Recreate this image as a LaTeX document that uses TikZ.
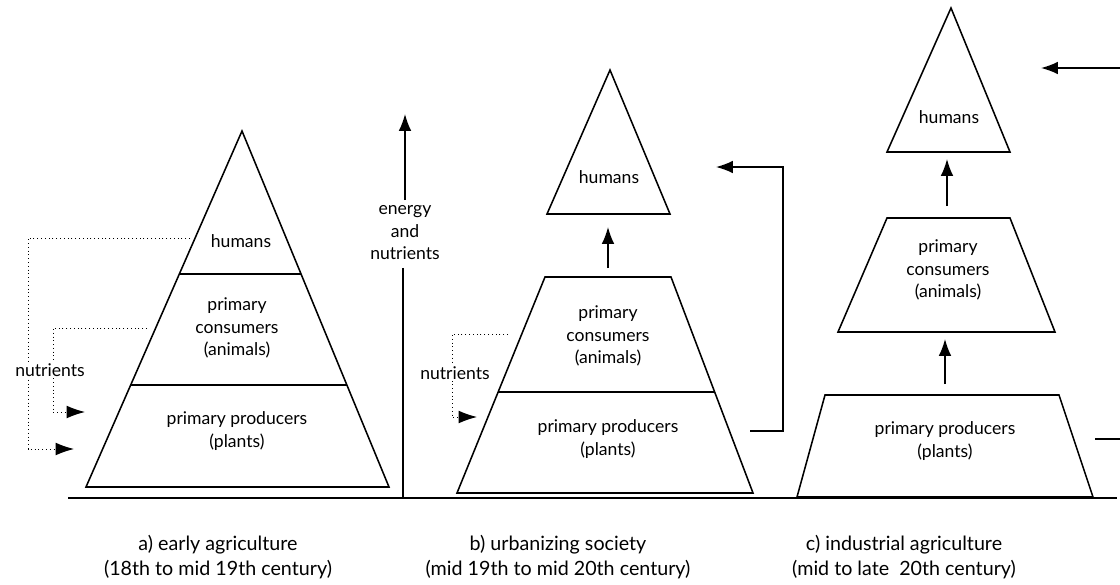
\documentclass[tikz,border=0pt]{standalone}
\usepackage{fontspec}
\setmainfont{Lato}
\usetikzlibrary{calc, arrows.meta}

\tikzset{
	level/.style = {line width=1.1pt, line join=miter},
	txt/.style = {align=center, inner sep=1pt},
	flow/.style = {line width=1.1pt, -{Latex[length=12pt, width=9pt]}},
	feed/.style = {dotted, line width=0.7pt, -{Latex[length=13pt, width=9pt]}},
}

\begin{document}
\begin{tikzpicture}[x=0.025cm, y=-0.025cm, font=\fontsize{12.5}{16}\selectfont]
	\useasboundingbox (0,0) rectangle (1120,585);

	% a) early agriculture
	\coordinate (aTop) at (242,131);
	\coordinate (aBL) at (86,487);
	\coordinate (aBR) at (389,487);
	\draw [level] (aBL) -- (aTop) -- (aBR) -- cycle;
	\draw [level] ($(aTop)!0.402!(aBL)$) -- ($(aTop)!0.402!(aBR)$);
	\draw [level] ($(aTop)!0.713!(aBL)$) -- ($(aTop)!0.713!(aBR)$);

	\node [txt] (aHum) at (241,241) {humans};
	\node [txt] (aCon) at (237,328) {primary\\consumers\\(animals)};
	\node [txt] (aPro) at (237,431) {primary producers\\(plants)};

	\coordinate (aOutFrom) at (190,238);
	\coordinate (aOutTo) at (74,449);
	\coordinate (aInFrom) at (147,328);
	\coordinate (aInTo) at (85,412);
	\draw [feed] (aOutFrom) -| (28,449) -- (aOutTo);
	\draw [feed] (aInFrom) -| (53,412) -- (aInTo);
	\node [txt, fill=white] (aNut) at (50,370) {nutrients};

	% energy and nutrients
	\node [txt] (energy) at (405,233) {energy\\and\\nutrients};
	\coordinate (enTip) at (405,114);
	\coordinate (enFoot) at (403,499);
	\draw [flow] (energy.north) ++(0,-4) -- (enTip);
	\draw [level] (energy.south) ++(-2,6) -- (enFoot);

	% ground line
	\coordinate (gL) at (68,498);
	\coordinate (gR) at (1117,498);
	\draw [line width=1pt] (gL) -- (gR);

	% b) urbanizing society
	\coordinate (bTL) at (545,277);
	\coordinate (bTR) at (671,277);
	\coordinate (bBL) at (457,493);
	\coordinate (bBR) at (753,493);
	\draw [level] (bBL) -- (bTL) -- (bTR) -- (bBR) -- cycle;
	\draw [level] ($(bTL)!0.532!(bBL)$) -- ($(bTR)!0.532!(bBR)$);
	\draw [level] (547,214) -- (610,70) -- (670,214) -- cycle;

	\node [txt] (bHum) at (609,177) {humans};
	\node [txt] (bCon) at (608,336) {primary\\consumers\\(animals)};
	\node [txt] (bPro) at (608,439) {primary producers\\(plants)};

	\coordinate (bUpFrom) at (608,268);
	\coordinate (bUpTo) at (608,227);
	\draw [flow] (bUpFrom) -- (bUpTo);

	\coordinate (bBackFrom) at (750,431);
	\coordinate (bBackTo) at (716,167);
	\draw [flow] (bBackFrom) -- (783,431) -- (783,167) -- (bBackTo);

	\coordinate (bNutFrom) at (508,334);
	\coordinate (bNutTo) at (477,417);
	\draw [feed] (bNutFrom) -| (452,417) -- (bNutTo);
	\node [txt, fill=white] (bNut) at (455,373) {nutrients};

	% c) industrial agriculture
	\draw [level] (887,152) -- (951,8) -- (1010,152) -- cycle;
	\draw [level] (838,332) -- (887,218) -- (1010,218) -- (1055,332) -- cycle;
	\draw [level] (797,497) -- (825,395) -- (1059,395) -- (1093,497) -- cycle;

	\node [txt] (cHum) at (949,117) {humans};
	\node [txt] (cCon) at (948,270) {primary\\consumers\\(animals)};
	\node [txt] (cPro) at (945,441) {primary producers\\(plants)};

	\coordinate (cUpAFrom) at (945,384);
	\coordinate (cUpATo) at (945,339);
	\coordinate (cUpBFrom) at (947,206);
	\coordinate (cUpBTo) at (947,159);
	\draw [flow] (cUpAFrom) -- (cUpATo);
	\draw [flow] (cUpBFrom) -- (cUpBTo);

	\coordinate (cOutFrom) at (1095,439);
	\coordinate (cOutTo) at (1120,439);
	\draw [level] (cOutFrom) -- (cOutTo);
	\coordinate (cInFrom) at (1120,68);
	\coordinate (cInTo) at (1041,68);
	\draw [flow] (cInFrom) -- (cInTo);

	% captions
	\begin{scope}[font=\fontsize{14}{17.5}\selectfont]
		\node [txt] (aCap) at (218,557) {a) early agriculture\\(18th to mid 19th century)};
		\node [txt] (bCap) at (558,557) {b) urbanizing society\\(mid 19th to mid 20th century)};
		\node [txt] (cCap) at (904,557) {c) industrial agriculture\\(mid to late~~20th century)};
	\end{scope}
\end{tikzpicture}
\end{document}
